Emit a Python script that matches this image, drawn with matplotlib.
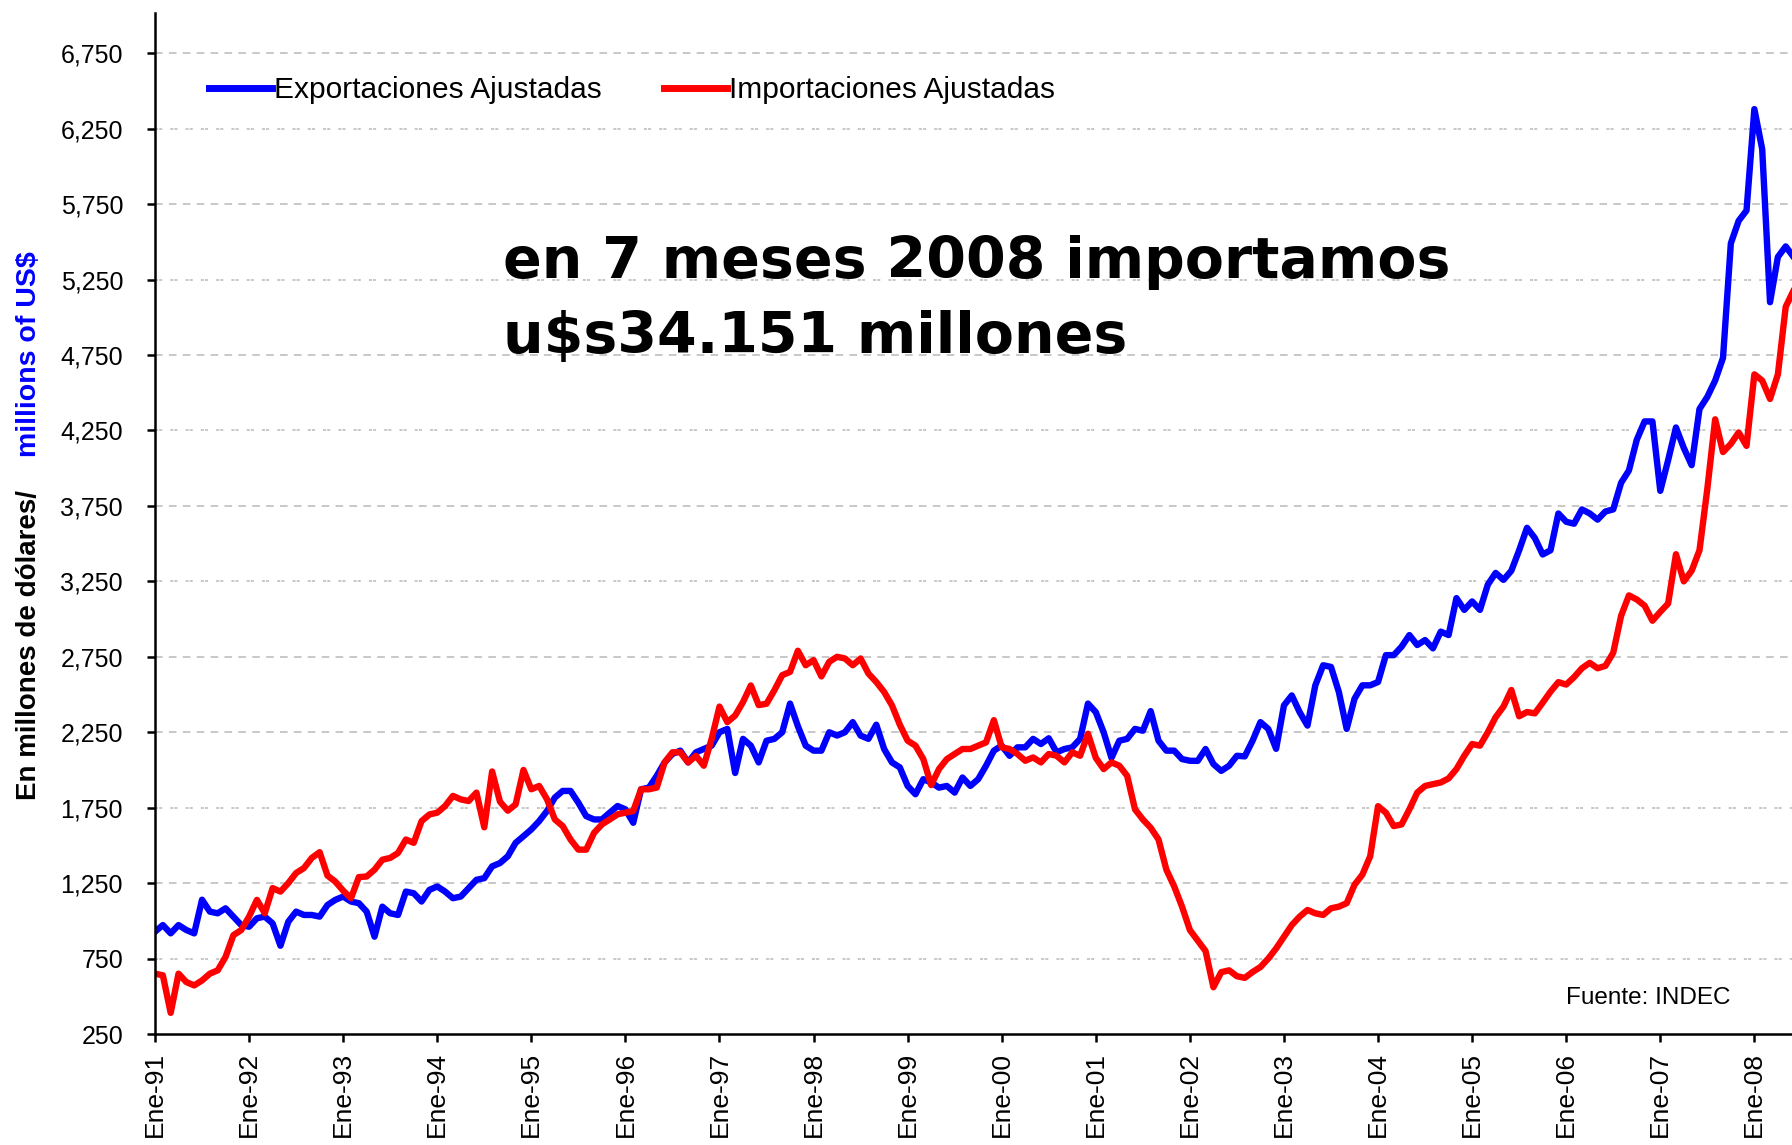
import matplotlib
matplotlib.use("Agg")
import matplotlib.pyplot as plt
import numpy as np

# ---------------- data ----------------
year_labels = ["Ene-91", "Ene-92", "Ene-93", "Ene-94", "Ene-95", "Ene-96",
               "Ene-97", "Ene-98", "Ene-99", "Ene-00", "Ene-01", "Ene-02",
               "Ene-03", "Ene-04", "Ene-05", "Ene-06", "Ene-07", "Ene-08"]

y_ticks = [250, 750, 1250, 1750, 2250, 2750, 3250, 3750, 4250, 4750,
           5250, 5750, 6250, 6750]

# monthly values, Jan 1991 onwards (millions of US$)
exportaciones = [
    928, 972, 917, 972, 939, 917, 1140, 1061, 1050, 1083, 1028, 972,        # 1991
    961, 1017, 1028, 983, 835, 994, 1061, 1039, 1039, 1028, 1105, 1139,     # 1992
    1161, 1128, 1117, 1061, 895, 1094, 1050, 1039, 1194, 1183, 1128, 1205,  # 1993
    1228, 1194, 1150, 1161, 1216, 1272, 1283, 1361, 1383, 1428, 1517, 1561, # 1994
    1606, 1661, 1728, 1817, 1861, 1861, 1783, 1694, 1672, 1672, 1717, 1761, # 1995
    1739, 1650, 1872, 1883, 1961, 2050, 2106, 2128, 2050, 2117, 2139, 2161, # 1996
    2250, 2272, 1980, 2206, 2161, 2050, 2194, 2206, 2250, 2440, 2290, 2161, # 1997
    2128, 2128, 2250, 2228, 2250, 2317, 2228, 2206, 2300, 2139, 2050, 2017, # 1998
    1894, 1839, 1939, 1917, 1883, 1894, 1850, 1950, 1894, 1939, 2028, 2128, # 1999
    2161, 2094, 2150, 2150, 2206, 2172, 2210, 2117, 2139, 2150, 2206, 2440, # 2000
    2383, 2250, 2080, 2194, 2206, 2272, 2260, 2390, 2194, 2128, 2128, 2072, # 2001
    2061, 2060, 2139, 2039, 1994, 2028, 2094, 2090, 2194, 2317, 2272, 2140, # 2002
    2428, 2494, 2383, 2294, 2561, 2694, 2683, 2517, 2272, 2472, 2561, 2561, # 2003
    2583, 2761, 2761, 2817, 2894, 2828, 2861, 2806, 2917, 2894, 3139, 3061, # 2004
    3117, 3061, 3228, 3306, 3260, 3320, 3456, 3605, 3537, 3428, 3456, 3700, # 2005
    3645, 3632, 3727, 3700, 3659, 3713, 3727, 3903, 3985, 4188, 4310, 4310, # 2006
    3850, 4053, 4270, 4134, 4020, 4392, 4473, 4581, 4731, 5490, 5640, 5708, # 2007
    6380, 6114, 5100, 5400, 5470, 5400,                                     # 2008
]

importaciones = [
    650, 639, 390, 650, 594, 572, 605, 650, 672, 761, 905, 939,             # 1991
    1028, 1139, 1050, 1217, 1194, 1250, 1317, 1350, 1417, 1455, 1300, 1260, # 1992
    1200, 1150, 1290, 1294, 1339, 1405, 1417, 1450, 1539, 1517, 1661, 1705, # 1993
    1717, 1761, 1828, 1805, 1794, 1850, 1620, 1990, 1790, 1730, 1772, 2000, # 1994
    1872, 1894, 1806, 1672, 1628, 1539, 1472, 1472, 1583, 1639, 1672, 1706, # 1995
    1717, 1728, 1872, 1872, 1883, 2050, 2117, 2117, 2050, 2094, 2028, 2206, # 1996
    2420, 2317, 2361, 2450, 2560, 2430, 2439, 2528, 2628, 2650, 2790, 2694, # 1997
    2728, 2620, 2717, 2750, 2739, 2694, 2739, 2639, 2583, 2517, 2428, 2300, # 1998
    2194, 2161, 2072, 1900, 2006, 2072, 2106, 2139, 2139, 2161, 2183, 2330, # 1999
    2150, 2139, 2106, 2061, 2083, 2050, 2106, 2094, 2050, 2117, 2094, 2240, # 2000
    2080, 2006, 2050, 2028, 1961, 1739, 1672, 1617, 1539, 1339, 1228, 1094, # 2001
    939, 870, 800, 560, 660, 672, 633, 622, 661, 694, 750, 817,             # 2002
    894, 972, 1028, 1072, 1050, 1039, 1083, 1094, 1117, 1239, 1306, 1428,   # 2003
    1760, 1717, 1628, 1639, 1739, 1850, 1894, 1906, 1917, 1944, 2006, 2094, # 2004
    2172, 2161, 2250, 2350, 2420, 2530, 2356, 2384, 2375, 2446, 2519, 2582, # 2005
    2566, 2615, 2674, 2710, 2674, 2690, 2777, 3021, 3157, 3130, 3089, 2989, # 2006
    3048, 3103, 3430, 3250, 3320, 3456, 3863, 4324, 4107, 4161, 4237, 4148, # 2007
    4622, 4581, 4459, 4622, 5070, 5178,                                     # 2008
]

label_exp = "Exportaciones Ajustadas"
label_imp = "Importaciones Ajustadas"

# ---------------- figure ----------------
W, H, DPI = 1792, 1145, 100
plt.rcParams["lines.scale_dashes"] = False
tick_font = "Liberation Sans"

fig = plt.figure(figsize=(W / DPI, H / DPI), dpi=DPI)
fig.patch.set_facecolor("white")
ax = fig.add_axes([155 / W, 1 - 1034 / H, (W - 155) / W, (1034 - 13) / H])

months = np.arange(len(exportaciones))

# grid lines (alternating dash patterns as in the original)
long_dash = (5.5, 4.5)
pair_dash = (2.2, 0.8, 2.2, 5.8)
grid_styles = [pair_dash, long_dash, pair_dash, long_dash, long_dash, pair_dash,
               long_dash, pair_dash, long_dash, pair_dash, long_dash, pair_dash,
               long_dash]
for v, d in zip(y_ticks[1:], grid_styles):
    ax.axhline(v, color="#c4c4c4", lw=1.3, dashes=d, zorder=1)

ax.plot(months, exportaciones, color="#0000ff", lw=4.6, label=label_exp,
        zorder=3, solid_joinstyle="round")
ax.plot(months, importaciones, color="#ff0000", lw=4.6, label=label_imp,
        zorder=3, solid_joinstyle="round")

ax.set_xlim(0, (W - 155) / 7.84)
ax.set_ylim(250, 7017)

ax.set_yticks(y_ticks)
ax.set_yticklabels([f"{v:,}" for v in y_ticks], fontsize=18, family=tick_font)
ax.set_xticks(np.arange(0, 12 * len(year_labels), 12))
ax.set_xticklabels(year_labels, rotation=90, fontsize=19, family=tick_font)

for s in ["top", "right"]:
    ax.spines[s].set_visible(False)
for s in ["left", "bottom"]:
    ax.spines[s].set_linewidth(1.8)
    ax.spines[s].set_color("black")
    ax.spines[s].set_zorder(4)
ax.tick_params(axis="both", direction="out", length=6, width=1.8, color="black")
ax.tick_params(axis="y", pad=17)
ax.tick_params(axis="x", pad=7)

# legend
leg = ax.legend(loc="center left", bbox_to_anchor=(209 / W, 1 - 90 / H),
                bbox_transform=fig.transFigure, ncol=2, frameon=False,
                prop={"family": tick_font, "size": 21.5},
                handlelength=2.1, handletextpad=0.07, columnspacing=2.1,
                borderpad=0, borderaxespad=0)
for line in leg.get_lines():
    line.set_linewidth(5)

# y axis titles (two colours)
fig.text(29 / W, 1 - 800 / H, "En millones de dólares/", rotation=90,
         fontsize=20, fontweight="bold", family=tick_font, color="black",
         ha="center", va="bottom")
fig.text(29 / W, 1 - 457 / H, "millions of US$", rotation=90,
         fontsize=20.5, fontweight="bold", family=tick_font, color="#0000ff",
         ha="center", va="bottom")

# annotation
fig.text(503 / W, 1 - 278 / H, "en 7 meses 2008 importamos", fontsize=41,
         fontweight="bold", family="DejaVu Sans", ha="left", va="baseline")
fig.text(503 / W, 1 - 353 / H, "u$s34.151 millones", fontsize=41,
         fontweight="bold", family="DejaVu Sans", ha="left", va="baseline")

fig.text(1566 / W, 1 - 998 / H, "Fuente: INDEC", fontsize=17.5,
         family=tick_font, ha="left", va="center")

fig.savefig("out.png", dpi=DPI, facecolor="white")
